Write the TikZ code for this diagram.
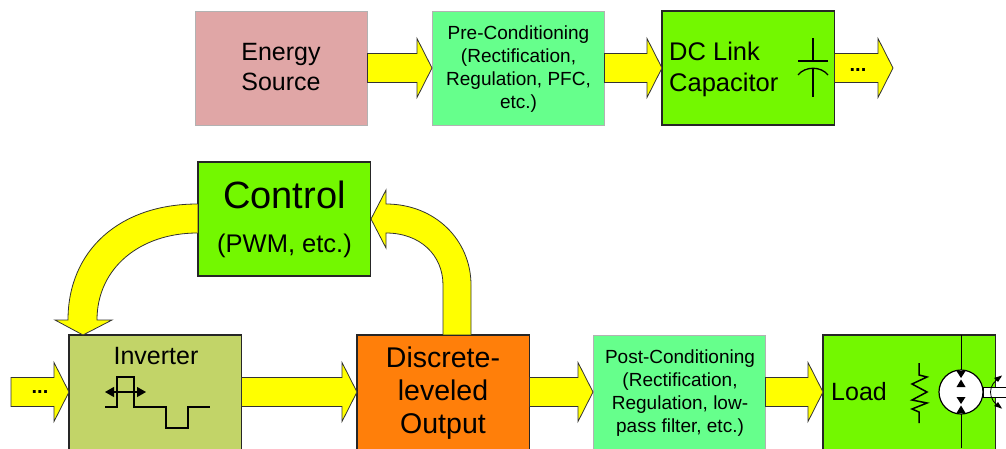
\documentclass[tikz,border=0pt]{standalone}
\usepackage{fontspec}
\setmainfont{Liberation Sans}
\usetikzlibrary{calc,arrows.meta}
\definecolor{pinkbox}{HTML}{E0A6A6}
\definecolor{mintbox}{HTML}{66FF8C}
\definecolor{limebox}{HTML}{73F800}
\definecolor{olivebox}{HTML}{C2D468}
\definecolor{orangebox}{HTML}{FF7F0A}
\definecolor{arrowyellow}{HTML}{FFFF00}
\newcommand{\fs}[2]{\fontsize{#1}{#2}\selectfont}
\tikzset{
  block/.style={minimum width=172.5,minimum height=114,inner sep=0,outer sep=0,anchor=north west,align=center},
  lowblock/.style={minimum height=140},
  noline/.style={block,draw=black!30,line width=.5},
  lined/.style={block,draw=black!85,line width=1.3},
  yarrow/.style={fill=arrowyellow,draw=black!80,line width=.8,line join=miter},
  symbol/.style={draw=black,line width=1.3},
  dots/.style={inner sep=0,font=\bfseries\fs{20}{20}},
  label/.style={inner sep=0,align=center}
}
% straight block arrow between two named points
\newcommand{\blockarrow}[2]{%
  \draw[yarrow] ($(#1)+(0,-14.5)$) -- ($(#2)+(-15,-14.5)$) -- ($(#2)+(-15,-29.5)$)
    -- (#2) -- ($(#2)+(-15,29.5)$) -- ($(#2)+(-15,14.5)$) -- ($(#1)+(0,14.5)$) -- cycle;}
\begin{document}
\begin{tikzpicture}[x=1pt,y=-1pt]
\useasboundingbox (0,0) rectangle (1006,448);
\clip (0,0) rectangle (1006,448);
\node[noline,fill=pinkbox] (energy) at (195,11) {};
\node[label,font=\fs{25}{30}] (energytext) at (281,67.5) {Energy\\Source};
\node[noline,fill=mintbox] (pre) at (432,11) {};
\node[label,font=\fs{19}{23}] (pretext) at (518.5,69.5) {Pre-Conditioning\\(Rectification,\\Regulation, PFC,\\etc.)};
\node[lined,fill=limebox] (dc) at (662,11) {};
\node[anchor=west,inner sep=0,align=left,font=\fs{25.5}{30.5}] (dctext) at (669,69.5) {DC Link\\Capacitor};
\node[lined,fill=limebox] (control) at (198,162) {};
\node[label,font=\fs{38}{40}] (controltext) at (284.5,195) {Control};
\node[label,font=\fs{25.5}{28}] (pwm) at (284.5,246) {(PWM, etc.)};
\node[lined,lowblock,fill=olivebox] (inverter) at (69,335) {};
\node[label,font=\fs{25}{28}] (invtext) at (156,356) {Inverter};
\node[lined,lowblock,fill=orangebox] (discrete) at (357,335) {};
\node[label,font=\fs{28.5}{33}] (disctext) at (443,393.5) {Discrete-\\leveled\\Output};
\node[noline,lowblock,fill=mintbox] (post) at (593,335) {};
\node[label,font=\fs{19}{23}] (posttext) at (680,393) {Post-Conditioning\\(Rectification,\\Regulation, low-\\pass filter, etc.)};
\node[lined,lowblock,fill=limebox] (load) at (823,335) {};
\node[anchor=west,inner sep=0,font=\fs{25}{28}] (loadtext) at (831,392) {Load};

% connection points on the lower row and free ends of the stub arrows
\coordinate (invW) at ($(inverter.north west)+(0,57)$);
\coordinate (invE) at ($(inverter.north east)+(0,57)$);
\coordinate (discW) at ($(discrete.north west)+(0,57)$);
\coordinate (discE) at ($(discrete.north east)+(0,57)$);
\coordinate (postW) at ($(post.north west)+(0,57)$);
\coordinate (postE) at ($(post.north east)+(0,57)$);
\coordinate (loadW) at ($(load.north west)+(0,57)$);
\coordinate (dcout) at (893,68);
\coordinate (invin) at (11,392);

\blockarrow{energy.east}{pre.west}
\blockarrow{pre.east}{dc.west}
\blockarrow{dc.east}{dcout}
\blockarrow{invE}{discW}
\blockarrow{discE}{postW}
\blockarrow{postE}{loadW}
\blockarrow{invin}{invW}
\node[dots] at (858,70) {...};
\node[dots] at (40,392) {...};

% Control -> Inverter curved
\coordinate (invtop) at (83,335);
\draw[yarrow] (197.5,204) .. controls (120,204) and (68,250) .. (68,320)
  -- (55,320) -- (invtop) -- (112,320) -- (97,320)
  .. controls (97,268) and (140,233) .. (197.5,233);
% Discrete -> Control curved
\coordinate (ctrlright) at (371,219);
\draw[yarrow] (443,334.5) -- (443,285) .. controls (443,255) and (420,233) .. (386,233)
  -- (386,248) -- (ctrlright) -- (386,190) -- (386,204)
  .. controls (435,204) and (471,240) .. (471,285) -- (471,334.5);

% Inverter waveform
\draw[symbol,line width=1.2] (105,407) -| (117,377) -| (134,407) -| (166,428) -| (188,407) -- (210,407);
\draw[symbol,line width=1.1,{Triangle[length=9,width=10]}-{Triangle[length=9,width=10]}] (105,392) -- (146,392);

% capacitor
\draw[symbol] (813,38) -- (813,61);
\draw[symbol] (798,61) -- (828,61);
\draw[symbol] (798,75) .. controls (805,66) and (821,66) .. (828,75);
\draw[symbol] (813,68) -- (813,97);

% resistor
\draw[symbol,line width=1.5] (919,363) -- (919,375) -- (927,377) -- (912,384) -- (927,392) -- (912,400) -- (927,403) -- (912,409) -- (919,412) -- (919,423);

% load inner line and motor
\draw[black,line width=1] (961,335) -- (961,448);
\draw[fill=white,draw=black,line width=.8] (983,387) rectangle (1007,397);
\draw[fill=white,draw=black,line width=1.2] (961,392) circle (22);
\draw[black,line width=.8] (1001,377) .. controls (987,384) and (987,400) .. (1001,408);
\fill[black] (956.5,371) -- (965.5,371) -- (961,378) -- cycle;
\fill[black] (956.5,387) -- (965.5,387) -- (961,379.5) -- cycle;
\fill[black] (956.5,397) -- (965.5,397) -- (961,404) -- cycle;
\fill[black] (956.5,413) -- (965.5,413) -- (961,405.5) -- cycle;
\fill[black] (1002,375.5) -- (994,378) -- (998,382) -- cycle;
\fill[black] (1002,408.5) -- (994,406) -- (998,402) -- cycle;
\end{tikzpicture}
\end{document}
